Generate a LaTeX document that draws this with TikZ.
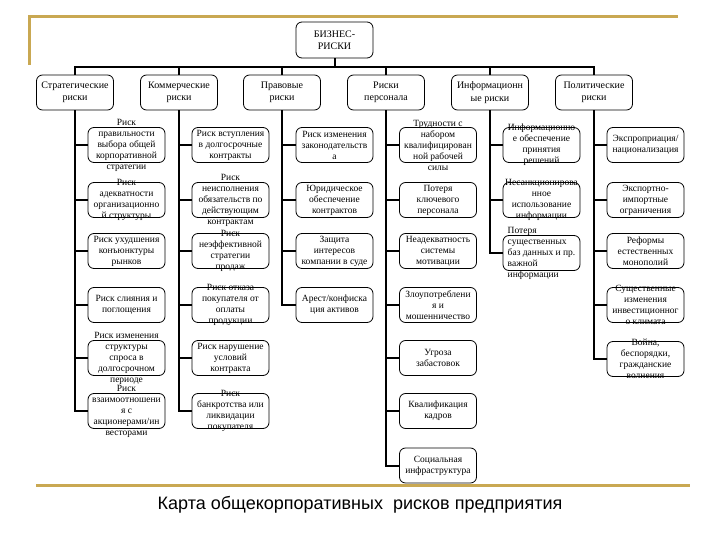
\documentclass[tikz,border=0pt]{standalone}
\usepackage{fontspec}
\setmainfont{Liberation Serif}
\newfontfamily\titlefont{Liberation Sans}
\definecolor{goldline}{RGB}{201,168,82}
\newcommand\riskitem[4][]{\node[rbox] (#2) at (#3) {}; \node[txt,#1] (#2t) at (#2.center) {#4};}
\begin{document}
\begin{tikzpicture}[x=1pt,y=-1pt,
  rbox/.style={draw,rounded corners=6pt,line width=0.8pt,minimum width=77pt,minimum height=35pt,inner sep=0pt},
  txt/.style={inner sep=0pt,font=\fontsize{9.5}{11}\selectfont,align=center},
  cattxt/.style={inner sep=0pt,font=\fontsize{10}{12.5}\selectfont,align=center},
  conn/.style={line width=2pt},
  frameline/.style={draw=goldline,line width=3pt}]
\useasboundingbox (0,0) rectangle (720,540);
% frame
\draw[frameline] (29,65) -- (29,17) -- (678,17);
\draw[frameline] (36,485) -- (690,485);
% root
\node[rbox,minimum height=36pt,cattxt] (root) at (334.5,40) {БИЗНЕС-\\РИСКИ};
% categories
\node[rbox,cattxt] (c1) at (75,92.5) {Стратегические\\риски};
\node[rbox,cattxt] (c2) at (179,92.5) {Коммерческие\\риски};
\node[rbox,cattxt] (c3) at (282,92.5) {Правовые\\риски};
\node[rbox,cattxt] (c4) at (386,92.5) {Риски\\персонала};
\node[rbox,cattxt] (c5) at (490,92.5) {Информационн\\ые риски};
\node[rbox,cattxt] (c6) at (594,92.5) {Политические\\риски};
\coordinate (bus) at (334.5,67);
\draw[conn] (root.south) -- (bus);
\draw[conn] (c1.north) -- (c1.north |- bus) -- (c6.north |- bus) -- (c6.north);
\foreach \c in {c2,c3,c4,c5} \draw[conn] (\c.north) -- (\c.north |- bus);
% column 1
\riskitem{a1}{126.5,145}{Риск\\правильности\\выбора общей\\корпоративной\\стратегии}
\riskitem{a2}{126.5,200}{Риск\\адекватности\\организационно\\й структуры}
\riskitem{a3}{126.5,251}{Риск ухудшения\\конъюнктуры\\рынков}
\riskitem{a4}{126.5,305}{Риск слияния и\\поглощения}
\riskitem{a5}{126.5,358}{Риск изменения\\структуры\\спроса в\\долгосрочном\\периоде}
\riskitem{a6}{126.5,411}{Риск\\взаимоотношени\\я с\\акционерами/ин\\весторами}
% column 2
\riskitem{b1}{230.5,145}{Риск вступления\\в долгосрочные\\контракты}
\riskitem{b2}{230.5,200}{Риск\\неисполнения\\обязательств по\\действующим\\контрактам}
\riskitem{b3}{230.5,251}{Риск\\неэффективной\\стратегии\\продаж}
\riskitem{b4}{230.5,305}{Риск отказа\\покупателя от\\оплаты\\продукции}
\riskitem{b5}{230.5,358}{Риск нарушение\\условий\\контракта}
\riskitem{b6}{230.5,411}{Риск\\банкротства или\\ликвидации\\покупателя}
% column 3
\riskitem{d1}{334.5,145}{Риск изменения\\законодательств\\а}
\riskitem{d2}{334.5,200}{Юридическое\\обеспечение\\контрактов}
\riskitem{d3}{334.5,251}{Защита\\интересов\\компании в суде}
\riskitem{d4}{334.5,305}{Арест/конфиска\\ция активов}
% column 4
\riskitem{e1}{438,145}{Трудности с\\набором\\квалифицирован\\ной рабочей\\силы}
\riskitem{e2}{438,200}{Потеря\\ключевого\\персонала}
\riskitem{e3}{438,251}{Неадекватность\\системы\\мотивации}
\riskitem{e4}{438,305}{Злоупотреблени\\я и\\мошенничество}
\riskitem{e5}{438,358}{Угроза\\забастовок}
\riskitem{e6}{438,411}{Квалификация\\кадров}
\riskitem{e7}{438,465.5}{Социальная\\инфраструктура}
% column 5
\riskitem{f1}{541.5,145}{Информационно\\е обеспечение\\принятия\\решений}
\riskitem{f2}{541.5,200}{Несанкционирова\\нное\\использование\\информации}
\riskitem[align=left]{f3}{541.5,253}{Потеря\\существенных\\баз данных и пр.\\важной\\информации}
% column 6
\riskitem{g1}{645.5,145}{Экспроприация/\\национализация}
\riskitem{g2}{645.5,200}{Экспортно-\\импортные\\ограничения}
\riskitem{g3}{645.5,251}{Реформы\\естественных\\монополий}
\riskitem{g4}{645.5,305}{Существенные\\изменения\\инвестиционног\\о климата}
\riskitem{g5}{645.5,359}{Война,\\беспорядки,\\гражданские\\волнения}
% connectors
\draw[conn] (c1.south) -- (c1.south |- a6.west) -- (a6.west);
\foreach \n in {a1,a2,a3,a4,a5} \draw[conn] (c1.south |- \n.west) -- (\n.west);
\draw[conn] (c2.south) -- (c2.south |- b6.west) -- (b6.west);
\foreach \n in {b1,b2,b3,b4,b5} \draw[conn] (c2.south |- \n.west) -- (\n.west);
\draw[conn] (c3.south) -- (c3.south |- d4.west) -- (d4.west);
\foreach \n in {d1,d2,d3} \draw[conn] (c3.south |- \n.west) -- (\n.west);
\draw[conn] (c4.south) -- (c4.south |- e7.west) -- (e7.west);
\foreach \n in {e1,e2,e3,e4,e5,e6} \draw[conn] (c4.south |- \n.west) -- (\n.west);
\draw[conn] (c5.south) -- (c5.south |- f3.west) -- (f3.west);
\foreach \n in {f1,f2} \draw[conn] (c5.south |- \n.west) -- (\n.west);
\draw[conn] (c6.south) -- (c6.south |- g5.west) -- (g5.west);
\foreach \n in {g1,g2,g3,g4} \draw[conn] (c6.south |- \n.west) -- (\n.west);
% title
\node[font=\titlefont\fontsize{18}{21}\selectfont] (title) at (360,505) {Карта общекорпоративных\ \ рисков предприятия};
\end{tikzpicture}
\end{document}
